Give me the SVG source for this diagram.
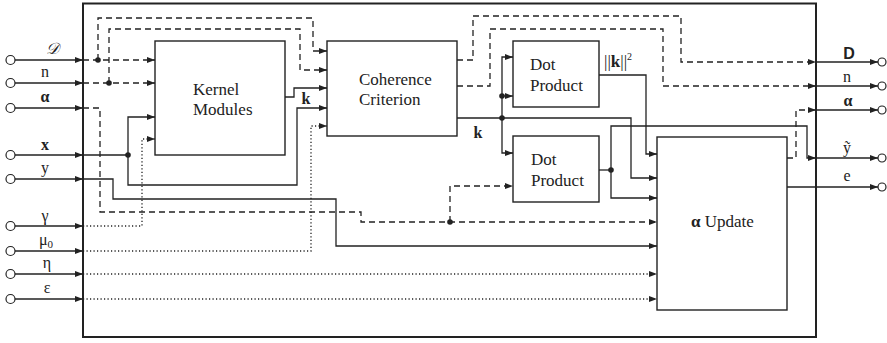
<svg xmlns="http://www.w3.org/2000/svg" width="887" height="343" viewBox="0 0 887 343">
  <defs>
    <marker id="arr" markerUnits="userSpaceOnUse" markerWidth="9" markerHeight="6" refX="8" refY="3" orient="auto">
      <path d="M0,0 L8,3 L0,6 z" fill="#222"/>
    </marker>
    <style>
      .frame { fill: none; stroke: #222; stroke-width: 2; }
      .box { fill: #fff; stroke: #222; stroke-width: 1.4; }
      .w { fill: none; stroke: #222; stroke-width: 1.3; }
      .a { marker-end: url(#arr); }
      .dash { stroke-dasharray: 6 4; }
      .dot { stroke-dasharray: 1.2 2.3; }
      .port { fill: #fff; stroke: #222; stroke-width: 1.2; }
      .jn { fill: #222; }
      .t { font-size: 17px; fill: #222; }
      .lbl { font-size: 16px; fill: #222; text-anchor: middle; }
      .b { font-weight: bold; }
    </style>
  </defs>

  <!-- outer system boundary -->
  <rect class="frame" x="83" y="3.5" width="733" height="333.5"/>

  <g font-family="'Liberation Serif', 'DejaVu Serif', serif">
  <!-- blocks -->
  <g id="kernel-modules">
    <rect class="box" x="155" y="41" width="130" height="114"/>
    <text class="t" x="193" y="95">Kernel</text>
    <text class="t" x="193" y="115">Modules</text>
  </g>
  <g id="coherence-criterion">
    <rect class="box" x="327" y="41" width="130" height="95"/>
    <text class="t" x="359" y="85">Coherence</text>
    <text class="t" x="359" y="105">Criterion</text>
  </g>
  <g id="dot-product-1">
    <rect class="box" x="513" y="41" width="86" height="66"/>
    <text class="t" x="530" y="70">Dot</text>
    <text class="t" x="530" y="91">Product</text>
  </g>
  <g id="dot-product-2">
    <rect class="box" x="513" y="136" width="86" height="66"/>
    <text class="t" x="531" y="165">Dot</text>
    <text class="t" x="531" y="186">Product</text>
  </g>
  <g id="alpha-update">
    <rect class="box" x="657" y="137" width="130" height="173"/>
    <text class="t" x="691" y="227"><tspan class="b">α</tspan> Update</text>
  </g>

  <!-- input ports -->
  <g id="inputs">
    <circle class="port" cx="10.5" cy="60" r="4.5"/>
    <circle class="port" cx="10.5" cy="83" r="4.5"/>
    <circle class="port" cx="10.5" cy="108" r="4.5"/>
    <circle class="port" cx="10.5" cy="155" r="4.5"/>
    <circle class="port" cx="10.5" cy="179" r="4.5"/>
    <circle class="port" cx="10.5" cy="226" r="4.5"/>
    <circle class="port" cx="10.5" cy="251" r="4.5"/>
    <circle class="port" cx="10.5" cy="274" r="4.5"/>
    <circle class="port" cx="10.5" cy="299" r="4.5"/>
    <text class="lbl" x="52" y="54" font-style="italic">𝒟</text>
    <text class="lbl" x="45" y="77">n</text>
    <text class="lbl b" x="45" y="102">α</text>
    <text class="lbl b" x="45" y="150">x</text>
    <text class="lbl" x="45" y="173">y</text>
    <text class="lbl" x="45" y="221">γ</text>
    <text class="lbl" x="46" y="245">μ<tspan font-size="11" dy="3">0</tspan></text>
    <text class="lbl" x="47" y="268">η</text>
    <text class="lbl" x="47" y="293">ε</text>
  </g>

  <!-- output ports -->
  <g id="outputs">
    <circle class="port" cx="882" cy="62" r="4"/>
    <circle class="port" cx="882" cy="86" r="4"/>
    <circle class="port" cx="882" cy="110" r="4"/>
    <circle class="port" cx="882" cy="158" r="4"/>
    <circle class="port" cx="882" cy="187" r="4"/>
    <text x="849" y="59" font-family="'Liberation Sans', Arial, sans-serif" font-size="16" font-weight="bold" text-anchor="middle" fill="#222">D</text>
    <text class="lbl" x="847" y="82">n</text>
    <text class="lbl b" x="848" y="106">α</text>
    <text class="lbl" x="847" y="153">ỹ</text>
    <text class="lbl" x="847" y="181">e</text>
  </g>

  <!-- signal labels -->
  <g id="signal-labels">
    <text class="lbl b" x="306" y="104" font-size="15">k</text>
    <text class="lbl b" x="478" y="138" font-size="15">k</text>
    <text class="t" x="604" y="67" font-size="15">||<tspan class="b">k</tspan>||<tspan font-size="10" dy="-7">2</tspan></text>
  </g>
  </g>

  <g id="connectors">
    <!-- input leads -->
    <path class="w a" d="M15,60 H83"/>
    <path class="w a" d="M15,83 H83"/>
    <path class="w a" d="M15,108 H83"/>
    <path class="w a" d="M15,155 H83"/>
    <path class="w a" d="M15,179 H83"/>
    <path class="w a" d="M15,226 H83"/>
    <path class="w a" d="M15,251 H83"/>
    <path class="w a" d="M15,274 H83"/>
    <path class="w a" d="M15,299 H83"/>

    <!-- dictionary D -->
    <path class="w a dash" d="M83,60 H155"/>
    <path class="w a dash" d="M98,60 V18 H313 V51 H327"/>
    <!-- count n -->
    <path class="w a dash" d="M83,83 H155"/>
    <path class="w a dash" d="M109,83 V29 H300 V70 H327"/>
    <!-- kernel vector k -->
    <path class="w a" d="M285,97 H294 V88 H327"/>
    <!-- input x -->
    <path class="w a" d="M83,155 H128 V117 H155"/>
    <path class="w a" d="M128,155 V185 H297 V108 H327"/>
    <!-- desired y -->
    <path class="w a" d="M83,179 H113 V199 H336 V246 H657"/>
    <!-- coefficients alpha -->
    <path class="w a dash" d="M83,108 H100 V212 H361 V222 H657"/>
    <path class="w a dash" d="M450,222 V186 H513"/>
    <!-- parameters -->
    <path class="w a dot" d="M83,226 H142 V139 H155"/>
    <path class="w a dot" d="M83,251 H311 V126 H327"/>
    <path class="w a dot" d="M83,274 H657"/>
    <path class="w a dot" d="M83,299 H657"/>

    <!-- coherence outputs -->
    <path class="w a dash" d="M457,60 H473 V16 H681 V62 H816"/>
    <path class="w a" d="M816,62 H878"/>
    <path class="w a dash" d="M457,86 H490 V29 H663 V86 H816"/>
    <path class="w a" d="M816,86 H878"/>
    <path class="w a" d="M457,118 H631 V178 H657"/>
    <path class="w" d="M502,96 V118"/>
    <path class="w a" d="M502,96 V57 H513"/>
    <path class="w a" d="M502,96 H513"/>
    <path class="w a" d="M502,118 V153 H513"/>

    <!-- dot product outputs -->
    <path class="w a" d="M599,75 H646 V154 H657"/>
    <path class="w" d="M599,170 H611"/>
    <path class="w a" d="M611,170 V126 H807 V158 H816"/>
    <path class="w a" d="M816,158 H878"/>
    <path class="w a" d="M611,170 V198 H657"/>

    <!-- update outputs -->
    <path class="w a dash" d="M787,158 H796 V110 H816"/>
    <path class="w a" d="M816,110 H878"/>
    <path class="w a" d="M787,187 H878"/>

    <!-- junctions -->
    <circle class="jn" cx="98" cy="60" r="2.8"/>
    <circle class="jn" cx="109" cy="83" r="2.8"/>
    <circle class="jn" cx="128" cy="155" r="2.8"/>
    <circle class="jn" cx="450" cy="222" r="2.8"/>
    <circle class="jn" cx="502" cy="96" r="2.8"/>
    <circle class="jn" cx="502" cy="118" r="2.8"/>
    <circle class="jn" cx="611" cy="170" r="2.8"/>
  </g>
</svg>
